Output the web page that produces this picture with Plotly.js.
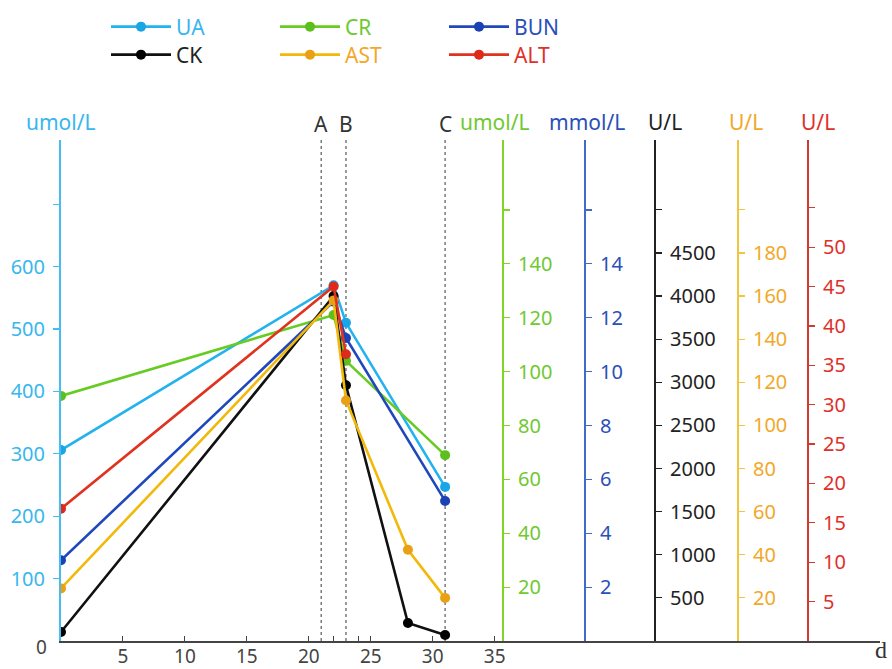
<!DOCTYPE html>
<html><head><meta charset="utf-8">
<script src="https://cdn.plot.ly/plotly-3.0.1.min.js"></script>
<style>html,body{margin:0;padding:0;background:#fff}#chart{width:892px;height:669px}</style>
</head><body><div id="chart"></div>
<script>
// ---- data ----
const daysUA = [0, 22, 23, 31];
const valuesUA = [306, 570, 510, 247];          // umol/L
const daysCR = [0, 22, 23, 31];
const valuesCR = [91, 121, 104, 69];            // umol/L
const daysBUN = [0, 22, 23, 31];
const valuesBUN = [3.0, 12.6, 11.25, 5.2];      // mmol/L
const daysCK = [0, 22, 23, 28, 31];
const valuesCK = [105, 4000, 2965, 209, 70];    // U/L
const daysAST = [0, 22, 23, 28, 31];
const valuesAST = [24.4, 158, 111.6, 42.3, 20]; // U/L
const daysALT = [0, 22, 23];
const valuesALT = [16.8, 45, 36.4];             // U/L

const eventDays = [21, 23, 31];
const eventLabels = ['A', 'B', 'C'];

const xTickVals = [5, 10, 15, 20, 22, 24, 25, 30, 35];
const xTickText = ['5', '10', '15', '20', '', '', '25', '30', '35'];
const uaTicks = [100, 200, 300, 400, 500, 600, 700];
const crTicks = [20, 40, 60, 80, 100, 120, 140, 160];
const bunTicks = [2, 4, 6, 8, 10, 12, 14, 16];
const ckTicks = [500, 1000, 1500, 2000, 2500, 3000, 3500, 4000, 4500, 5000];
const astTicks = [20, 40, 60, 80, 100, 120, 140, 160, 180, 200];
const altTicks = [5, 10, 15, 20, 25, 30, 35, 40, 45, 50, 55];
const unitLabels = ['umol/L', 'umol/L', 'mmol/L', 'U/L', 'U/L', 'U/L'];

// ---- styling ----
const FONT = 'Noto Sans, Open Sans, sans-serif';
const C = {
  UA:  {line: '#22b2ee', dot: '#1aa6e6', text: '#38b6ee', axis: '#45bdf0'},
  CR:  {line: '#66cc22', dot: '#5cbf1c', text: '#70c832', axis: '#80d424'},
  BUN: {line: '#1f48bc', dot: '#1a42b4', text: '#2a4fb8', axis: '#3f6cc6'},
  CK:  {line: '#111111', dot: '#000000', text: '#222222', axis: '#222222'},
  AST: {line: '#f2b90a', dot: '#e9a015', text: '#f2a828', axis: '#f2c440'},
  ALT: {line: '#e0321e', dot: '#dd2a1a', text: '#e0302a', axis: '#d23a2e'}
};
const axisPos = [0, 0.5397, 0.6398, 0.7253, 0.8266, 0.9121];
const labelsOf = (arr) => arr.map((v, i) => i === arr.length - 1 ? '' : String(v));

function tr(name, xs, ys, col, yax, legend, rank) {
  return {
    x: xs, y: ys, yaxis: yax, type: 'scatter', mode: 'lines+markers',
    name: '<span style="color:' + col.text + '">' + name + '</span>',
    line: {color: col.line, width: 2.6},
    marker: {color: col.dot, size: 10},
    legend: legend, legendrank: rank, hoverinfo: 'x+y'
  };
}

const data = [
  tr('CR', daysCR, valuesCR, C.CR, 'y2', 'legend', 2),
  tr('UA', daysUA, valuesUA, C.UA, 'y', 'legend', 1),
  tr('BUN', daysBUN, valuesBUN, C.BUN, 'y3', 'legend', 3),
  tr('AST', daysAST, valuesAST, C.AST, 'y5', 'legend2', 2),
  tr('ALT', daysALT, valuesALT, C.ALT, 'y6', 'legend2', 3),
  tr('CK', daysCK, valuesCK, C.CK, 'y4', 'legend2', 1)
];

function yax(col, range, ticks, pos, side, extra) {
  const a = {
    range: range, tickmode: 'array', tickvals: ticks, ticktext: labelsOf(ticks),
    showline: true, linecolor: col.axis, linewidth: 2,
    ticks: 'outside', ticklen: 6, tickwidth: 1.2, tickcolor: col.axis,
    ticklabelstandoff: 4,
    tickfont: {family: FONT, size: 20, color: col.text},
    showgrid: false, zeroline: false, side: side, fixedrange: true
  };
  if (pos !== null) { a.overlaying = 'y'; a.anchor = 'free'; a.position = pos; }
  return Object.assign(a, extra || {});
}

const shapes = eventDays.map(d => ({
  type: 'line', xref: 'x', yref: 'paper', x0: d, x1: d, y0: 0, y1: 1,
  line: {color: '#666', width: 1.3, dash: 'dot'}, layer: 'below'
}));

const annotations = [];
eventDays.forEach((d, i) => annotations.push({
  x: d, y: 1.031, xref: 'x', yref: 'paper', text: eventLabels[i], showarrow: false,
  font: {family: FONT, size: 21, color: '#333'}, xanchor: 'center', yanchor: 'middle'
}));
const unitCols = [C.UA, C.CR, C.BUN, C.CK, C.AST, C.ALT];
const unitShift = [0, -8, 2, 10, 8, 10];
unitLabels.forEach((t, i) => annotations.push({
  x: axisPos[i], y: 1.036, xref: 'paper', yref: 'paper', text: t, showarrow: false,
  xshift: unitShift[i],
  font: {family: FONT, size: 21, color: unitCols[i].text}, xanchor: 'center', yanchor: 'middle'
}));
annotations.push({x: 0, y: 0, xref: 'paper', yref: 'paper', text: '0', showarrow: false,
  xshift: -20, yshift: -6, font: {family: FONT, size: 19, color: '#444'}, xanchor: 'center', yanchor: 'middle'});
annotations.push({x: 1.0, y: -0.018, xref: 'paper', yref: 'paper', text: 'd', showarrow: false,
  xshift: 9, font: {family: 'Liberation Serif, serif', size: 24, color: '#333'}, xanchor: 'right', yanchor: 'middle'});

const legendBase = {
  orientation: 'h', xref: 'container', yref: 'container', xanchor: 'left', yanchor: 'middle',
  font: {family: FONT, size: 21}, itemwidth: 60, entrywidth: 94, entrywidthmode: 'pixels',
  bgcolor: 'rgba(0,0,0,0)', borderwidth: 0, tracegroupgap: 0
};

const layout = {
  width: 892, height: 669,
  margin: {l: 61, r: 12, t: 140, b: 28, pad: 0},
  paper_bgcolor: '#fff', plot_bgcolor: '#fff',
  font: {family: FONT},
  showlegend: true,
  legend: Object.assign({}, legendBase, {x: 106 / 892, y: 1 - 27 / 669}),
  legend2: Object.assign({}, legendBase, {x: 106 / 892, y: 1 - 55 / 669}),
  xaxis: {
    range: [0, 66.1], tickmode: 'array', tickvals: xTickVals, ticktext: xTickText,
    showline: true, linecolor: '#444', linewidth: 2, ticks: 'inside', ticklen: 5, tickcolor: '#444',
    ticklabelstandoff: -3,
    tickfont: {family: FONT, size: 19, color: '#444'}, showgrid: false, zeroline: false, fixedrange: true
  },
  yaxis: yax(C.UA, [0, 803], uaTicks, null, 'left'),
  yaxis2: yax(C.CR, [0, 186], crTicks, axisPos[1], 'right'),
  yaxis3: yax(C.BUN, [0, 18.6], bunTicks, axisPos[2], 'right'),
  yaxis4: yax(C.CK, [0, 5810], ckTicks, axisPos[3], 'right'),
  yaxis5: yax(C.AST, [0, 232.4], astTicks, axisPos[4], 'right'),
  yaxis6: yax(C.ALT, [0, 63.6], altTicks, axisPos[5], 'right'),
  shapes: shapes,
  annotations: annotations
};

Plotly.newPlot('chart', data, layout, {displayModeBar: false, staticPlot: true});
</script>
</body></html>
